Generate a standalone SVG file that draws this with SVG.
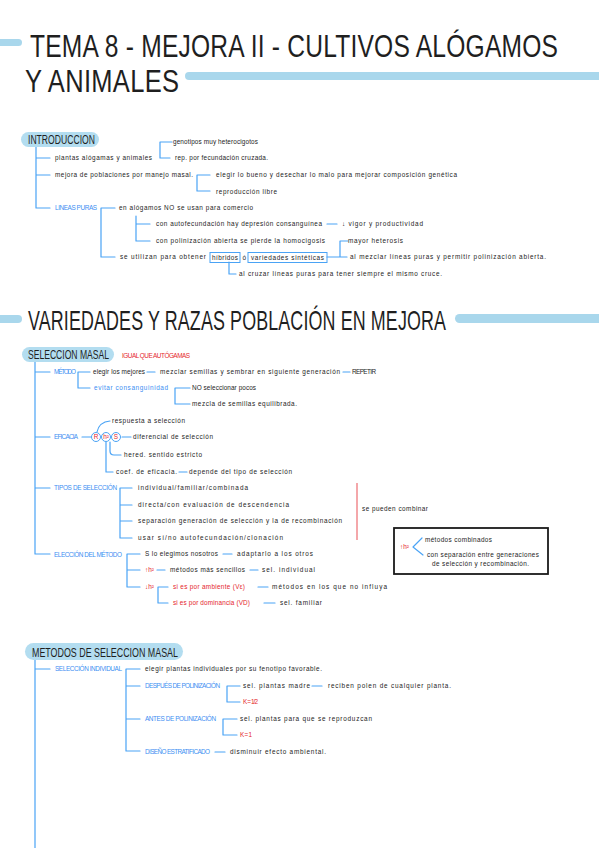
<svg xmlns="http://www.w3.org/2000/svg" width="599" height="848" viewBox="0 0 599 848">
<style>
.t{font-family:"Liberation Sans",Arial,sans-serif;font-size:6.4px;fill:#242424}
.b{fill:#3b8ef2}
.r{fill:#e5262c}
.h{font-family:"Liberation Sans",Arial,sans-serif;fill:#1f1f1f}
.c{fill:none;stroke:#4aa3f5;stroke-width:1.2;stroke-linecap:round;stroke-linejoin:round}
.bar{fill:#a9d7ec}
.pill{fill:#b3ddf0}
.box{fill:none;stroke:#4aa3f5;stroke-width:1}
.circ{fill:#fff;stroke:#4aa3f5;stroke-width:1}
</style>
<rect width="599" height="848" fill="#ffffff"/>

<g id="title">
<rect class="bar" x="-4" y="39" width="26" height="7" rx="3.5"/>
<g transform="translate(30 56.5) scale(1 1.25)"><text class="h" x="0" y="0" font-size="24.6" textLength="528">TEMA 8 - MEJORA II - CULTIVOS ALÓGAMOS</text></g>
<g transform="translate(25 92) scale(1 1.25)"><text class="h" x="0" y="0" font-size="25.5" textLength="154">Y ANIMALES</text></g>
<rect class="bar" x="185" y="72" width="420" height="8" rx="4"/>
</g>

<g id="title2">
<rect class="bar" x="-4" y="315" width="26" height="8" rx="4"/>
<g transform="translate(28 330) scale(1 1.55)"><text class="h" x="0" y="0" font-size="17.9" textLength="418">VARIEDADES Y RAZAS POBLACIÓN EN MEJORA</text></g>
<rect class="bar" x="455" y="314" width="150" height="9" rx="4.5"/>
</g>

<g id="connectors">
<path class="c" d="M36 147 V208 H50 M36 158 H50 M36 175 H50"/>
<path class="c" d="M172 142 H160 V158 H170"/>
<path class="c" d="M210 175 H197 V191 H210"/>
<path class="c" d="M115 208 H101 V257 H115"/>
<path class="c" d="M136 216 V241 H150 M136 224 H150"/>
<path class="c" d="M327 224 H337"/>
<path class="c" d="M327 257 H340 M348 241 H340 V257 H347"/>
<path class="c" d="M229 262 V274 H236"/>

<path class="c" d="M35 362 V554 H50 M35 372 H50 M35 437 H50 M35 488 H50"/>
<path class="c" d="M90 372 H78 V388 H90"/>
<path class="c" d="M147 372 H155"/>
<path class="c" d="M343 372 H350"/>
<path class="c" d="M190 388 H175 V404 H190"/>
<path class="c" d="M82 437 H91"/>
<path class="c" d="M97 432 Q99 422 110 421"/>
<path class="c" d="M122 437 H131"/>
<path class="c" d="M110 442 V451 Q110 455 114 455 H121"/>
<path class="c" d="M106 442 V472 H113"/>
<path class="c" d="M179 472 H187"/>
<path class="c" d="M132 488 H120 V538 H132 M120 505 H132 M120 521 H132"/>
<path class="c" d="M422 538 L413 547 L423 555"/>
<path class="c" d="M140 554 H127 V587 H140 M127 570 H140"/>
<path class="c" d="M223 554 H232"/>
<path class="c" d="M157 570 H165 M250 570 H258"/>
<path class="c" d="M168 587 H158 V603 H168"/>
<path class="c" d="M258 587 H268 M264 603 H275"/>

<path class="c" d="M35 660 V848 M35 669 H50"/>
<path class="c" d="M140 669 H126 V751 H140 M126 686 H140 M126 719 H140"/>
<path class="c" d="M240 686 H227 V702 H240"/>
<path class="c" d="M312 686 H322"/>
<path class="c" d="M237 719 H223 V735 H237"/>
<path class="c" d="M215 752 H225"/>
</g>

<g id="introduccion">
<rect class="pill" x="21" y="132" width="78" height="15" rx="7.5"/>
<g transform="translate(28 144) scale(1 1.4)"><text class="h" x="0" y="0" font-size="8.6" textLength="67">INTRODUCCION</text></g>
</g>
<g id="n-genotipos"><text class="t" x="173" y="144" textLength="85">genotipos muy heterocigotos</text></g>
<g id="n-plantas"><text class="t" x="55" y="160" textLength="97">plantas alógamas y animales</text></g>
<g id="n-rep"><text class="t" x="175" y="160" textLength="93">rep. por fecundación cruzada.</text></g>
<g id="n-mejora"><text class="t" x="55" y="177" textLength="138">mejora de poblaciones por manejo masal.</text></g>
<g id="n-elegir"><text class="t" x="216" y="177" textLength="241">elegir lo bueno y desechar lo malo para mejorar composición genética</text></g>
<g id="n-reprod"><text class="t" x="216" y="194" textLength="61">reproducción libre</text></g>
<g id="n-lineas"><text class="t b" x="55" y="210" textLength="42">LINEAS PURAS</text></g>
<g id="n-enalog"><text class="t" x="119" y="210" textLength="134">en alógamos NO se usan para comercio</text></g>
<g id="n-autof"><text class="t" x="156" y="226" textLength="166">con autofecundación hay depresión consanguínea</text></g>
<g id="n-vigor"><text class="t" x="342" y="226" textLength="81">↓ vigor y productividad</text></g>
<g id="n-polab"><text class="t" x="156" y="243" textLength="169">con polinización abierta se pierde la homocigosis</text></g>
<g id="n-heterosis"><text class="t" x="348" y="243" textLength="55">mayor heterosis</text></g>
<g id="n-utilizan"><text class="t" x="120" y="259" textLength="86">se utilizan para obtener</text></g>
<g id="n-hibridos"><rect class="box" x="210" y="252.5" width="30" height="10"/><text class="t" x="212" y="259.5" textLength="26">híbridos</text></g>
<g id="n-o"><text class="t" x="242.5" y="259.5">ó</text></g>
<g id="n-variedades"><rect class="box" x="248" y="252.5" width="79" height="10"/><text class="t" x="251" y="259.5" textLength="73">variedades sintéticas</text></g>
<g id="n-mezclar"><text class="t" x="350" y="259" textLength="196">al mezclar líneas puras y permitir polinización abierta.</text></g>
<g id="n-cruzar"><text class="t" x="239" y="276" textLength="203">al cruzar líneas puras para tener siempre el mismo cruce.</text></g>

<g id="seleccion-masal">
<rect class="pill" x="22" y="347" width="92" height="15" rx="7.5"/>
<g transform="translate(28 359) scale(1 1.4)"><text class="h" x="0" y="0" font-size="8.6" textLength="81">SELECCION MASAL</text></g>
</g>
<g id="n-igual"><text class="t r" x="122" y="358" textLength="68">IGUAL QUE AUTÓGAMAS</text></g>
<g id="n-metodo"><text class="t b" x="54" y="374" textLength="22">MÉTODO</text></g>
<g id="n-elegirmej"><text class="t" x="93" y="374" textLength="52">elegir los mejores</text></g>
<g id="n-mezclarsem"><text class="t" x="160" y="374" textLength="180">mezclar semillas y sembrar en siguiente generación</text></g>
<g id="n-repetir"><text class="t" x="352" y="374" textLength="24">REPETIR</text></g>
<g id="n-evitar"><text class="t b" x="94" y="390" textLength="74">evitar consanguinidad</text></g>
<g id="n-noselec"><text class="t" x="192" y="390" textLength="64">NO seleccionar pocos</text></g>
<g id="n-mezcla"><text class="t" x="192" y="406" textLength="105">mezcla de semillas equilibrada.</text></g>
<g id="n-respuesta"><text class="t" x="112" y="423" textLength="73">respuesta a selección</text></g>
<g id="n-eficacia"><text class="t b" x="54" y="439" textLength="24">EFICACIA</text></g>
<g id="n-formula">
<circle class="circ" cx="96" cy="437" r="4.5"/>
<circle class="circ" cx="106" cy="437" r="4.5"/>
<circle class="circ" cx="116" cy="437" r="4.5"/>
<text class="t r" x="96" y="439.2" text-anchor="middle">R</text>
<text class="t r" x="106" y="439.2" text-anchor="middle" font-size="5.5">h²</text>
<text class="t r" x="116" y="439.2" text-anchor="middle">S</text>
</g>
<g id="n-diferencial"><text class="t" x="133" y="439" textLength="80">diferencial de selección</text></g>
<g id="n-hered"><text class="t" x="124" y="457" textLength="78">hered. sentido estricto</text></g>
<g id="n-coef"><text class="t" x="116" y="474" textLength="61">coef. de eficacia.</text></g>
<g id="n-depende"><text class="t" x="189" y="474" textLength="103">depende del tipo de selección</text></g>
<g id="n-tipos"><text class="t b" x="54" y="490" textLength="63">TIPOS DE SELECCIÓN</text></g>
<g id="n-individual"><text class="t" x="138" y="490" textLength="110">individual/familiar/combinada</text></g>
<g id="n-directa"><text class="t" x="138" y="507" textLength="151">directa/con evaluación de descendencia</text></g>
<g id="n-separacion"><text class="t" x="138" y="523" textLength="204">separación generación de selección y la de recombinación</text></g>
<g id="n-usar"><text class="t" x="138" y="540" textLength="145">usar sí/no autofecundación/clonación</text></g>
<g id="n-combinar">
<line x1="357" y1="483" x2="357" y2="540" stroke="#f08a8e" stroke-width="1.5"/>
<text class="t" x="362" y="511" textLength="66">se pueden combinar</text>
</g>
<g id="n-boxcomb">
<rect x="394" y="528" width="154" height="46" fill="none" stroke="#1a1a1a" stroke-width="1.8"/>
<text class="t r" x="400" y="549">↑h²</text>
<text class="t" x="425" y="542" textLength="67">métodos combinados</text>
<text class="t" x="427" y="557" textLength="112">con separación entre generaciones</text>
<text class="t" x="432" y="566" textLength="97">de selección y recombinación.</text>
</g>
<g id="n-eleccion"><text class="t b" x="54" y="557" textLength="68">ELECCIÓN DEL MÉTODO</text></g>
<g id="n-slo"><text class="t" x="145" y="556" textLength="73">S lo elegimos nosotros</text></g>
<g id="n-adaptarlo"><text class="t" x="237" y="556" textLength="76">adaptarlo a los otros</text></g>
<g id="n-hup"><text class="t r" x="145" y="572">↑h²</text></g>
<g id="n-sencillos"><text class="t" x="170" y="572" textLength="75">métodos más sencillos</text></g>
<g id="n-selind"><text class="t" x="262" y="572" textLength="53">sel. individual</text></g>
<g id="n-hdown"><text class="t r" x="145" y="589">↓h²</text></g>
<g id="n-ambiente"><text class="t r" x="173" y="589" textLength="72">si es por ambiente (Vε)</text></g>
<g id="n-noinfluya"><text class="t" x="272" y="589" textLength="115">métodos en los que no influya</text></g>
<g id="n-dominancia"><text class="t r" x="173" y="605" textLength="77">si es por dominancia (VD)</text></g>
<g id="n-selfam"><text class="t" x="280" y="605" textLength="42">sel. familiar</text></g>

<g id="metodos">
<rect class="pill" x="25" y="643" width="158" height="17" rx="8.5"/>
<g transform="translate(32 657) scale(1 1.5)"><text class="h" x="0" y="0" font-size="8.9" textLength="146">METODOS DE SELECCION MASAL</text></g>
</g>
<g id="n-selindiv"><text class="t b" x="55" y="671" textLength="67">SELECCIÓN INDIVIDUAL</text></g>
<g id="n-elegirpl"><text class="t" x="145" y="671" textLength="177">elegir plantas individuales por su fenotipo favorable.</text></g>
<g id="n-despues"><text class="t b" x="145" y="688" textLength="75">DESPUÉS DE POLINIZACIÓN</text></g>
<g id="n-selmadre"><text class="t" x="243" y="688" textLength="67">sel. plantas madre</text></g>
<g id="n-reciben"><text class="t" x="328" y="688" textLength="123">reciben polen de cualquier planta.</text></g>
<g id="n-k12"><text class="t r" x="243" y="704" textLength="15">K = 1/2</text></g>
<g id="n-antes"><text class="t b" x="145" y="721" textLength="71">ANTES DE POLINIZACIÓN</text></g>
<g id="n-selpara"><text class="t" x="240" y="721" textLength="132">sel. plantas para que se reproduzcan</text></g>
<g id="n-k1"><text class="t r" x="240" y="737" textLength="12">K = 1</text></g>
<g id="n-diseno"><text class="t b" x="145" y="754" textLength="65">DISEÑO ESTRATIFICADO</text></g>
<g id="n-disminuir"><text class="t" x="230" y="754" textLength="96">disminuir efecto ambiental.</text></g>
</svg>
